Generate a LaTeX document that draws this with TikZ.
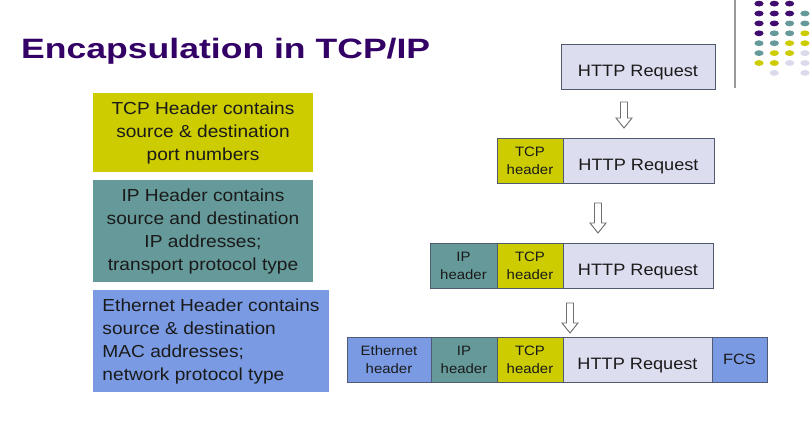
\documentclass[tikz,border=0pt]{standalone}
\usepackage{fontspec}
\setmainfont{Liberation Sans}
\newfontfamily\bodyfont[FakeStretch=1.1]{Liberation Sans}
\newfontfamily\titlefont[FakeStretch=1.27]{Liberation Sans}

\definecolor{titlepurple}{RGB}{51,0,102}
\definecolor{dotpurple}{RGB}{64,12,112}
\definecolor{tcpyellow}{RGB}{204,204,0}
\definecolor{ipteal}{RGB}{102,153,153}
\definecolor{ethblue}{RGB}{122,155,228}
\definecolor{httpfill}{RGB}{221,221,240}
\definecolor{dotlav}{RGB}{218,218,236}
\definecolor{segline}{RGB}{80,90,112}
\definecolor{textdark}{RGB}{26,26,26}
\definecolor{arrowgray}{RGB}{110,110,110}

% hollow block arrow pointing down: centre x, top y, tip y
\newcommand{\hollowdown}[3]{%
  \draw[arrowline] (#1-3.5,#2) -- (#1+3.5,#2) -- (#1+3.5,#3-10) -- (#1+8,#3-10)
    -- (#1,#3) -- (#1-8,#3-10) -- (#1-3.5,#3-10) -- cycle;}

\begin{document}
\begin{tikzpicture}[x=1pt,y=-1pt,
  info/.style={rectangle, inner sep=0pt, outer sep=0pt, text=textdark,
    font=\bodyfont\fontsize{17.4}{23}\selectfont},
  seg/.style={rectangle, draw=segline, line width=0.9pt, inner sep=0pt, outer sep=0pt,
    text=textdark, minimum height=45, minimum width=#1, anchor=north west},
  hdr/.style={align=center, font=\bodyfont\fontsize{13.6}{18}\selectfont},
  payload/.style={fill=httpfill, font=\bodyfont\fontsize{16.5}{20}\selectfont,
    text height=20pt, text depth=0.2pt},
  arrowline/.style={draw=arrowgray, line width=0.9pt, fill=white, line join=miter}]
\useasboundingbox (0,0) rectangle (812,434);
\fill[white] (0,0) rectangle (812,434);

% title
\node[anchor=base west, inner sep=0pt, text=titlepurple,
  font=\titlefont\bfseries\fontsize{28}{32}\selectfont] (title) at (21,58)
  {Encapsulation in TCP/IP};

% decorative rule and dot grid
\draw[gray!80, line width=1.2pt] (735,0) -- (735,88);
\foreach \c/\r/\col in {
  0/0/dotpurple, 1/0/dotpurple, 2/0/dotpurple,
  0/1/dotpurple, 1/1/dotpurple, 2/1/dotpurple, 3/1/ipteal,
  0/2/dotpurple, 1/2/dotpurple, 2/2/ipteal, 3/2/ipteal,
  0/3/dotpurple, 1/3/ipteal, 2/3/ipteal, 3/3/tcpyellow,
  0/4/ipteal, 1/4/ipteal, 2/4/tcpyellow, 3/4/tcpyellow,
  0/5/ipteal, 1/5/tcpyellow, 2/5/tcpyellow, 3/5/dotlav,
  0/6/tcpyellow, 1/6/tcpyellow, 2/6/dotlav, 3/6/dotlav,
  1/7/dotlav, 3/7/dotlav}
  \fill[\col] (759+15.3*\c, 3.6+9.9*\r) ellipse [x radius=4.6, y radius=2.9];

% explanation boxes
\node[info, fill=tcpyellow, align=center, minimum width=220, minimum height=79]
  (tcpinfo) at (203,132.5)
  {TCP Header contains\\source \& destination\\port numbers};
\node[info, fill=ipteal, align=center, minimum width=220, minimum height=102]
  (ipinfo) at (203,231)
  {IP Header contains\\source and destination\\IP addresses;\\transport protocol type};
\node[info, fill=ethblue, align=left, minimum width=236, minimum height=102]
  (ethinfo) at (211,341)
  {Ethernet Header contains\\source \& destination\\MAC addresses;\\network protocol type};

% application data
\node[seg=154, payload] (r1http) at (561,44) {HTTP Request};

% transport layer
\node[seg=66, fill=tcpyellow, hdr] (r2tcp) at (497,138) {TCP\\header};
\node[seg=151, payload] (r2http) at (r2tcp.north east) {HTTP Request};

% network layer
\node[seg=67, fill=ipteal, hdr] (r3ip) at (430,243) {IP\\header};
\node[seg=66, fill=tcpyellow, hdr] (r3tcp) at (r3ip.north east) {TCP\\header};
\node[seg=150, payload] (r3http) at (r3tcp.north east) {HTTP Request};

% link layer
\node[seg=84, fill=ethblue, hdr] (r4eth) at (347,337) {Ethernet\\header};
\node[seg=66, fill=ipteal, hdr] (r4ip) at (r4eth.north east) {IP\\header};
\node[seg=66, fill=tcpyellow, hdr] (r4tcp) at (r4ip.north east) {TCP\\header};
\node[seg=149, payload] (r4http) at (r4tcp.north east) {HTTP Request};
\node[seg=55, fill=ethblue, font=\bodyfont\fontsize{14.9}{18}\selectfont]
  (r4fcs) at (r4http.north east) {FCS};

% encapsulation steps
\hollowdown{624}{102}{128}
\hollowdown{598}{203}{233}
\hollowdown{570}{303}{333}
\end{tikzpicture}
\end{document}
